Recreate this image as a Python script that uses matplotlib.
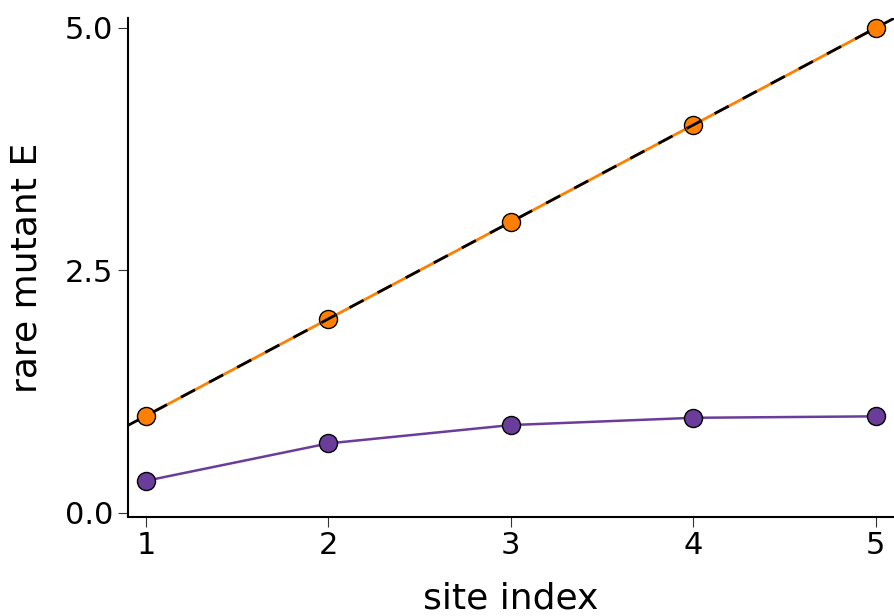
import matplotlib.pyplot as plt
import numpy as np

# site positions and expectation values
site = [1, 2, 3, 4, 5]
rare_exact = [1.0, 2.0, 3.0, 4.0, 5.0]
rare_approx = [0.33, 0.716, 0.905, 0.98, 0.995]
yticks = [0.0, 2.5, 5.0]
ytick_labels = ['0.0', '2.5', '5.0']

orange = '#ff8000'
purple = '#6a3d9a'

fig = plt.figure(figsize=(8.94, 6.16), dpi=100)
ax = fig.add_axes([0.1428, 0.1612, 0.8572, 0.8091])
ax.set_xlim(0.9, 5.1)
ax.set_ylim(-0.04, 5.1)

ax.plot(site, rare_exact, color=orange, lw=2, zorder=2)
ax.plot(site, rare_approx, color=purple, lw=1.8, zorder=2)

ax.plot(site, rare_exact, 'o', color=orange, mec='black', mew=1, ms=13, zorder=3)
ax.plot(site, rare_approx, 'o', color=purple, mec='black', mew=1, ms=13, zorder=3)

# reference line y = x across the whole axis, on top of the markers
xx = np.array(ax.get_xlim())
lw = 2.0
ax.plot(xx, xx, color='black', lw=lw, zorder=4,
        linestyle=(2.3 / lw, (11.45 / lw, 11.45 / lw)))

ax.spines['top'].set_visible(False)
ax.spines['right'].set_visible(False)
ax.spines['left'].set_linewidth(1.5)
ax.spines['bottom'].set_linewidth(1.5)

ax.set_xticks(site)
ax.set_yticks(yticks)
ax.set_yticklabels(ytick_labels)
ax.tick_params(labelsize=22, length=7, width=0.8, color='#333333')

ax.set_xlabel('site index', fontsize=26, labelpad=15)
ax.set_ylabel('rare mutant E', fontsize=26, labelpad=15)

fig.savefig('out.png', dpi=100)
